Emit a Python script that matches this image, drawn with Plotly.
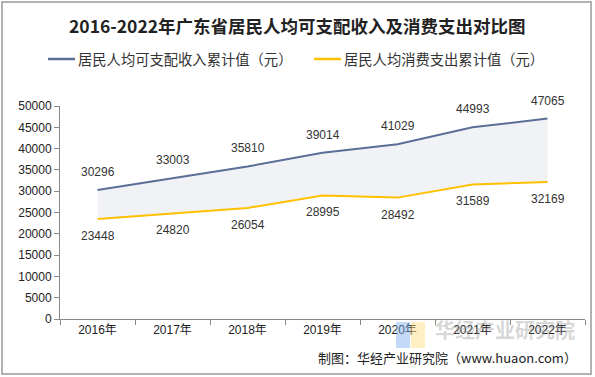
import plotly.graph_objects as go

years = ["2016年", "2017年", "2018年", "2019年", "2020年", "2021年", "2022年"]
income = [30296, 33003, 35810, 39014, 41029, 44993, 47065]
spend = [23448, 24820, 26054, 28995, 28492, 31589, 32169]
y_ticks = [0, 5000, 10000, 15000, 20000, 25000, 30000, 35000, 40000, 45000, 50000]

W, H = 595, 377
L, R, T, B = 60, 10, 106, 58
pw, ph = W - L - R, H - T - B

fig = go.Figure()
fig.add_trace(go.Scatter(x=years, y=spend, mode="lines", name="居民人均消费支出累计值（元）",
                         line=dict(color="#FFC000", width=2), showlegend=False, hoverinfo="skip"))
fig.add_trace(go.Scatter(x=years, y=income, mode="lines", name="居民人均可支配收入累计值（元）",
                         line=dict(color="#5B6E96", width=2), fill="tonexty", fillcolor="#F1F2F6",
                         showlegend=False, hoverinfo="skip"))

for yr, v in zip(years, income):
    fig.add_annotation(x=yr, y=v, text=str(v), showarrow=False, yshift=18,
                       font=dict(size=12, color="#333333"))
for yr, v in zip(years, spend):
    fig.add_annotation(x=yr, y=v, text=str(v), showarrow=False, yshift=-17,
                       font=dict(size=12, color="#333333"))

font_family = "Liberation Sans, Noto Sans CJK SC, sans-serif"
fig.update_layout(
    width=W, height=H, margin=dict(l=L, r=R, t=T, b=B),
    paper_bgcolor="white", plot_bgcolor="white",
    font=dict(family=font_family, size=12, color="#333333"),
    showlegend=False,
    xaxis=dict(range=[-0.5, 6.5], showgrid=False, showline=True, linecolor="#888888", linewidth=1,
               ticks="outside", tickcolor="#888888", ticklen=5, tickson="boundaries",
               tickfont=dict(size=12, color="#222222")),
    yaxis=dict(range=[0, 50000], tickvals=y_ticks, ticktext=[str(v) for v in y_ticks],
               showgrid=False, showline=True, linecolor="#888888",
               linewidth=1, ticks="outside", tickcolor="#888888", ticklen=5,
               tickfont=dict(size=12, color="#222222"), zeroline=False),
)

def px_x(x):
    return (x - L) / pw

def px_y(y):
    return (H - B - y) / ph

# border
fig.add_shape(type="rect", xref="paper", yref="paper", x0=px_x(2), x1=px_x(591), y0=px_y(2), y1=px_y(374),
              line=dict(color="#999999", width=1.5), fillcolor="rgba(0,0,0,0)", layer="below")

# title
fig.add_annotation(xref="paper", yref="paper", x=px_x(297), y=px_y(25), text="<b>2016-2022年广东省居民人均可支配收入及消费支出对比图</b>",
                   showarrow=False, font=dict(size=17.5, color="#222222", family="Noto Sans CJK SC, sans-serif"),
                   xanchor="center", yanchor="middle")

# legend
legend_items = [("#5B6E96", "居民人均可支配收入累计值（元）", 48), ("#FFC000", "居民人均消费支出累计值（元）", 314)]
for color, label, x0 in legend_items:
    fig.add_shape(type="line", xref="paper", yref="paper", x0=px_x(x0), x1=px_x(x0 + 27),
                  y0=px_y(59), y1=px_y(59), line=dict(color=color, width=2.5))
    fig.add_annotation(xref="paper", yref="paper", x=px_x(x0 + 28), y=px_y(59), text=label, showarrow=False,
                       xanchor="left", yanchor="middle",
                       font=dict(size=14.3, color="#333333", family="Noto Sans CJK SC, sans-serif"))

# watermark (logo blocks + faint text)
fig.add_shape(type="rect", xref="paper", yref="paper", x0=px_x(396), x1=px_x(410), y0=px_y(348), y1=px_y(322),
              line=dict(width=0), fillcolor="rgba(120,170,240,0.45)")
fig.add_shape(type="rect", xref="paper", yref="paper", x0=px_x(411), x1=px_x(425), y0=px_y(348), y1=px_y(322),
              line=dict(width=0), fillcolor="rgba(255,220,120,0.45)")
fig.add_annotation(xref="paper", yref="paper", x=px_x(433), y=px_y(329), text="<b>华经产业研究院</b>", showarrow=False,
                   xanchor="left", yanchor="middle",
                   font=dict(size=20, color="rgba(150,150,150,0.4)", family="Noto Sans CJK SC, sans-serif"))

# source
fig.add_annotation(xref="paper", yref="paper", x=px_x(579), y=px_y(357), text="制图：华经产业研究院（www.huaon.com）",
                   showarrow=False, xanchor="right", yanchor="middle",
                   font=dict(size=13, color="#222222", family="Noto Sans CJK SC, sans-serif"))

fig.write_html("out.html", config={"displayModeBar": False},
               post_script="document.body.style.margin='0';")
